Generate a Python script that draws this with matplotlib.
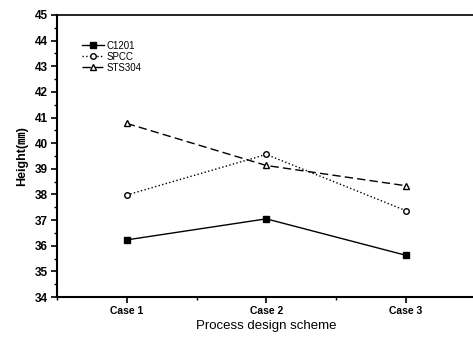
import matplotlib.pyplot as plt
from matplotlib.ticker import MultipleLocator

cases = ['Case 1', 'Case 2', 'Case 3']
c1201 = [36.23, 37.05, 35.63]
spcc = [37.98, 39.56, 37.37]
sts304 = [40.77, 39.13, 38.34]

plt.rcParams['font.family'] = ['Liberation Sans', 'Noto Sans CJK KR', 'DejaVu Sans']

fig = plt.figure(figsize=(4.73, 3.38), dpi=100)
ax = fig.add_axes([0.1205, 0.121, 0.885, 0.835])

x = [1, 2, 3]
ax.plot(x, c1201, '-', color='black', lw=1.0, marker='s', ms=4, label='C1201')
ax.plot(x, spcc, ':', color='black', lw=1.0, marker='o', ms=4, mfc='white', label='SPCC')
ax.plot(x, sts304, '--', color='black', lw=1.0, marker='^', ms=5, mfc='white',
        dashes=(6, 3), label='STS304')

ax.set_xlim(0.5, 3.5)
ax.set_ylim(34, 45)
ax.set_xticks(x)
ax.set_xticklabels(cases, fontweight='bold', fontsize=7.5)
ax.xaxis.set_minor_locator(MultipleLocator(0.5))
ax.yaxis.set_major_locator(MultipleLocator(1))
ax.yaxis.set_minor_locator(MultipleLocator(0.5))
for lab in ax.get_yticklabels():
    lab.set_fontweight('bold')
    lab.set_fontsize(8.5)
ax.tick_params(which='major', direction='out', length=4, width=1.2, pad=2.5)
ax.tick_params(which='minor', direction='out', length=2.5, width=1)

ax.spines['right'].set_visible(False)
ax.spines['left'].set_linewidth(1.5)
ax.spines['bottom'].set_linewidth(1.5)
ax.spines['top'].set_linewidth(1.2)

ax.set_xlabel('Process design scheme', fontsize=9.5, labelpad=3)
ax.set_ylabel('Height(㎜)', fontsize=9, fontweight='bold', labelpad=5)

leg = ax.legend(loc='upper left', bbox_to_anchor=(0.04, 0.94), frameon=False,
                fontsize=7, handlelength=2.2, labelspacing=0.1, handletextpad=0.3)

fig.savefig('out.png', dpi=100)
